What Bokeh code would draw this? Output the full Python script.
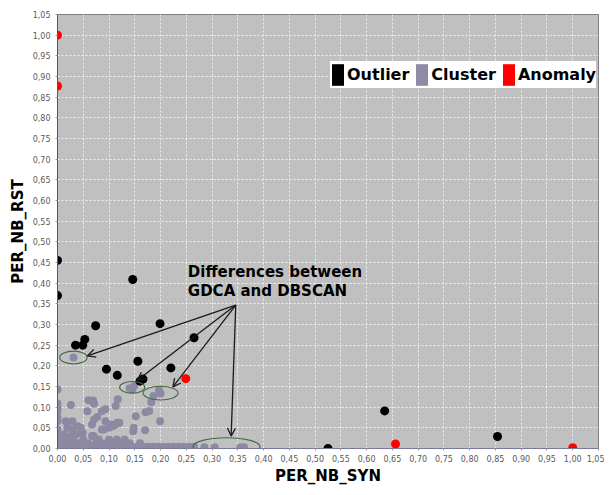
from bokeh.plotting import figure
from bokeh.models import (Range1d, FixedTicker, CustomJSTickFormatter, Legend, LegendItem,
                          Arrow, OpenHead, Label)
from bokeh.embed import file_html
from bokeh.resources import INLINE

# ---------------- data ----------------
tick_values = [0.0, 0.05, 0.1, 0.15, 0.2, 0.25, 0.3, 0.35, 0.4, 0.45, 0.5, 0.55,
               0.6, 0.65, 0.7, 0.75, 0.8, 0.85, 0.9, 0.95, 1.0, 1.05]

outlier_x = [0.0, 0.0, 0.035, 0.049, 0.053, 0.074, 0.095, 0.116, 0.146, 0.156, 0.160,
             0.166, 0.199, 0.220, 0.265, 0.525, 0.635, 0.854]
outlier_y = [0.455, 0.370, 0.250, 0.250, 0.264, 0.297, 0.192, 0.177, 0.409, 0.211, 0.163,
             0.168, 0.302, 0.195, 0.268, 0.0, 0.091, 0.029]

anomaly_x = [0.0, 0.0, 0.249, 0.656, 1.0]
anomaly_y = [1.0, 0.877, 0.169, 0.011, 0.002]

cluster_x = [0.031,
             0.140, 0.149, 0.145, 0.197, 0.200, 0.186, 0.182, 0.178, 0.171, 0.199, 0.170,
             0.152, 0.147, 0.148,
             0.117, 0.113, 0.120, 0.113, 0.107, 0.100, 0.105, 0.116, 0.102,
             0.093, 0.086, 0.077, 0.071, 0.067, 0.093, 0.086, 0.090, 0.070,
             0.060, 0.069, 0.071, 0.058, 0.026,
             0.016, 0.029, 0.019, 0.029, 0.039, 0.045, 0.049, 0.036, 0.026, 0.013, 0.067,
             0.0, 0.0, 0.0, 0.0, 0.0, 0.0, 0.0, 0.0, 0.0,
             0.005, 0.015, 0.025, 0.035, 0.045, 0.055, 0.065, 0.075, 0.085, 0.095, 0.105,
             0.115, 0.125, 0.135, 0.145, 0.155, 0.165, 0.175, 0.185, 0.195, 0.205, 0.215,
             0.225, 0.235, 0.245, 0.255, 0.265, 0.285, 0.305, 0.355, 0.362,
             0.005, 0.012, 0.020, 0.030, 0.040, 0.060, 0.075, 0.085, 0.095, 0.105, 0.115,
             0.125, 0.140, 0.160,
             0.005, 0.015, 0.030, 0.050, 0.080, 0.100, 0.115, 0.130]
cluster_y = [0.220,
             0.146, 0.151, 0.143, 0.141, 0.133, 0.127, 0.112, 0.091, 0.088, 0.066, 0.044,
             0.078, 0.042, 0.050,
             0.119, 0.103, 0.062, 0.058, 0.054, 0.050, 0.057, 0.062, 0.058,
             0.095, 0.090, 0.076, 0.070, 0.058, 0.066, 0.046, 0.046, 0.030,
             0.117, 0.116, 0.108, 0.090, 0.105,
             0.066, 0.066, 0.050, 0.046, 0.054, 0.050, 0.038, 0.034, 0.030, 0.034, 0.030,
             0.143, 0.109, 0.098, 0.090, 0.075, 0.066, 0.046, 0.030, 0.020,
             0.004, 0.004, 0.004, 0.004, 0.004, 0.004, 0.004, 0.004, 0.004, 0.004, 0.004,
             0.004, 0.004, 0.004, 0.004, 0.004, 0.004, 0.004, 0.004, 0.004, 0.004, 0.004,
             0.004, 0.004, 0.004, 0.004, 0.004, 0.003, 0.003, 0.003, 0.003,
             0.013, 0.013, 0.013, 0.013, 0.013, 0.013, 0.013, 0.013, 0.013, 0.013, 0.013,
             0.013, 0.013, 0.013,
             0.022, 0.022, 0.022, 0.022, 0.022, 0.022, 0.022, 0.022]

# highlighted regions (centre x, centre y, width, height)
ell_x = [0.031, 0.145, 0.200, 0.328]
ell_y = [0.220, 0.148, 0.134, 0.0045]
ell_w = [0.053, 0.049, 0.068, 0.130]
ell_h = [0.031, 0.028, 0.033, 0.043]

arrow_start = (0.346, 0.347)
arrow_end_x = [0.058, 0.155, 0.224, 0.337]
arrow_end_y = [0.224, 0.165, 0.149, 0.030]

note_lines = ["Differences between", "GDCA and DBSCAN"]

legend_labels = ["Outlier", "Cluster", "Anomaly"]
legend_colors = ["black", "#8e8ca4", "#ff0000"]

FONT = "DejaVu Sans"
NAN = float("nan")

p = figure(width=604, height=487, output_backend="svg", toolbar_location=None,
           x_range=Range1d(0, 1.05), y_range=Range1d(0, 1.05),
           min_border_left=57, min_border_right=6, min_border_top=14, min_border_bottom=35,
           background_fill_color="#c0c0c0", border_fill_color="white",
           x_axis_label="PER_NB_SYN", y_axis_label="PER_NB_RST")

p.outline_line_color = "#808080"
p.outline_line_width = 1

for ax in (p.xaxis, p.yaxis):
    ax.ticker = FixedTicker(ticks=tick_values)
    ax.formatter = CustomJSTickFormatter(code="return tick.toFixed(2).replace('.', ',');")
    ax.major_label_text_font = FONT
    ax.major_label_text_font_size = "8px"
    ax.major_label_text_color = "#5a5a5a"
    ax.axis_label_text_font = FONT
    ax.axis_label_text_font_style = "bold"
    ax.axis_label_text_font_size = "15px"
    ax.axis_label_text_color = "black"
    ax.minor_tick_line_color = None
    ax.major_tick_line_color = "#999999"
    ax.major_tick_out = 2
    ax.major_tick_in = 0
p.xaxis.major_label_standoff = 4
p.xaxis.axis_label_standoff = 2
p.yaxis.major_label_standoff = 5
p.yaxis.axis_label_standoff = 3
p.xaxis.axis_line_color = "#7a7a98"
p.yaxis.axis_line_color = "#55556a"

for g in (p.xgrid, p.ygrid):
    g.ticker = FixedTicker(ticks=tick_values)
    g.grid_line_color = "white"
    g.grid_line_alpha = 0.75
    g.grid_line_dash = "2 2"
    g.grid_line_width = 1

p.scatter(cluster_x, cluster_y, size=8, fill_color="#8c8aa2", line_color=None)
p.scatter(outlier_x, outlier_y, size=9, fill_color="black", line_color=None)
p.scatter(anomaly_x, anomaly_y, size=9, fill_color="#ff0000", line_color=None)

p.ellipse(x=ell_x, y=ell_y, width=ell_w, height=ell_h, fill_color=None,
          line_color="#3f6b3f", line_width=1.1)

for ex, ey in zip(arrow_end_x, arrow_end_y):
    p.add_layout(Arrow(x_start=arrow_start[0], y_start=arrow_start[1], x_end=ex, y_end=ey,
                       line_color="#1a1a1a", line_width=1.3,
                       end=OpenHead(size=8, line_color="#1a1a1a", line_width=1.3)))

for i, t in enumerate(note_lines):
    p.add_layout(Label(x=0.253, y=0.449 - i * 0.045, text=t, text_font=FONT,
                       text_font_style="bold", text_font_size="15px",
                       text_baseline="top", text_color="black"))

# legend proxies (NaN geometry: never drawn in the plot, only in the legend)
items = []
for lab, col in zip(legend_labels, legend_colors):
    r = p.quad(left=[NAN], right=[NAN], top=[NAN], bottom=[NAN],
               fill_color=col, line_color=None)
    items.append(LegendItem(label=lab, renderers=[r]))

legend = Legend(items=items,
                orientation="horizontal", location=(273, 360),
                glyph_width=15, glyph_height=27, label_height=27,
                label_standoff=2, spacing=5, padding=2, margin=0,
                label_text_font=FONT, label_text_font_style="bold",
                label_text_font_size="16px", label_text_color="black",
                background_fill_color="white", background_fill_alpha=1.0,
                border_line_color=None)
p.add_layout(legend)

open("out.html", "w").write(file_html(p, INLINE))
